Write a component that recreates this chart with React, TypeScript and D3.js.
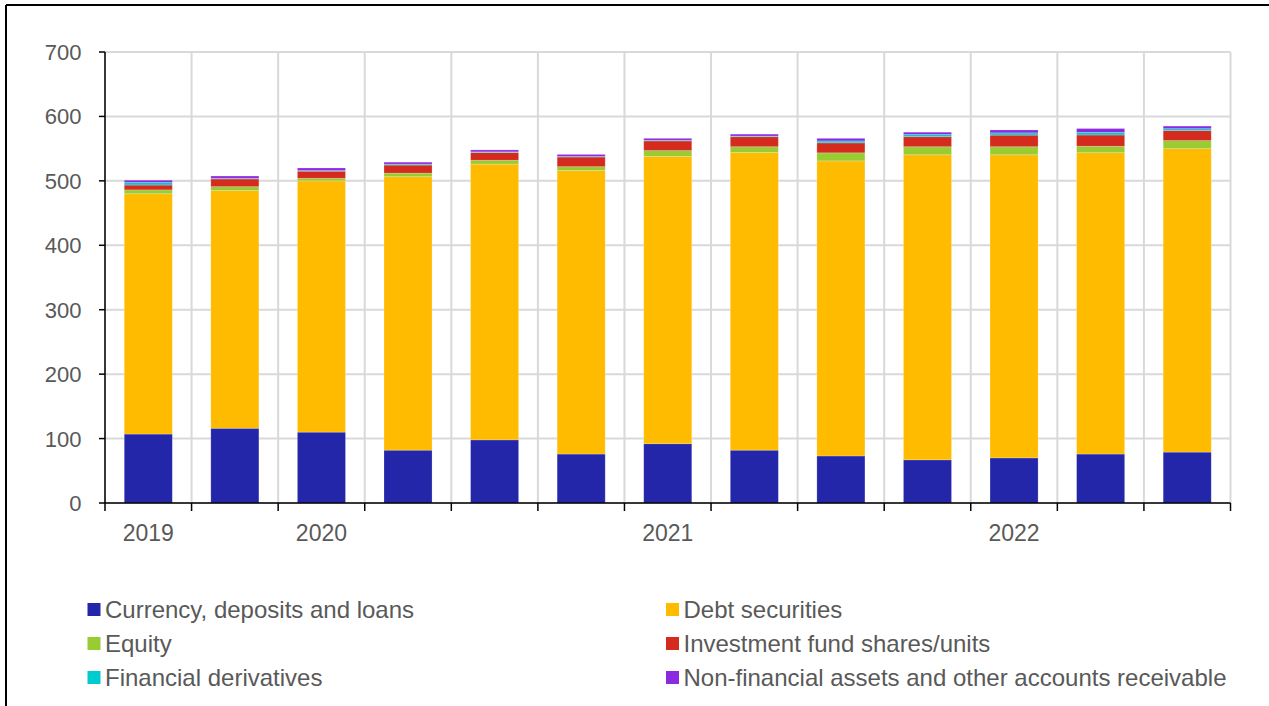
import React from "react";
import * as d3 from "d3";

const categories = ["2019Q1", "2019Q3", "2020Q1", "2020Q3", "2021Q1a", "2021Q1b", "2021Q1c", "2021Q3", "2021Q4", "2022Q1", "2022Q2", "2022Q3", "2022Q4"];
const xLabels = ["2019", "", "2020", "", "", "", "2021", "", "", "", "2022", "", ""];

const currency = [107, 116, 110, 82, 98, 76, 92, 82, 73, 67, 70, 76, 79];
const debt = [373, 369, 390, 424.5, 428, 440, 446, 462, 458, 473.5, 470.5, 467.7, 471];
const equity = [6, 6, 4, 5.5, 6, 6, 9, 9, 12.5, 12.5, 12.5, 10, 12.5];
const invFund = [7.5, 12, 11, 12.5, 12, 15, 15, 15.5, 15.5, 15.5, 18, 17.5, 15.5];
const finDeriv = [4, 1, 1, 1.5, 1, 1, 1, 1, 3, 3.5, 3.5, 4, 3];
const nonFin = [3.5, 3.5, 4, 3, 3, 3, 3, 3, 4, 3.5, 4.5, 6, 4];

const seriesNames = [
  "Currency, deposits and loans",
  "Debt securities",
  "Equity",
  "Investment fund shares/units",
  "Financial derivatives",
  "Non-financial assets and other accounts receivable",
];
const seriesColors = ["#2326A8", "#FFBB00", "#99CC33", "#D52B1E", "#00CCD0", "#8A2BE2"];
const seriesValues = [currency, debt, equity, invFund, finDeriv, nonFin];
const yTicks = [0, 100, 200, 300, 400, 500, 600, 700];

export default function App() {
  const left = 105, right = 1230.5, top = 52, bottom = 503;
  const x = d3.scaleBand<number>().domain(d3.range(categories.length)).range([left, right]).paddingInner(0.445).paddingOuter(0.2225);
  const xb = d3.scaleBand<number>().domain(d3.range(categories.length)).range([left, right]);
  const y = d3.scaleLinear().domain([0, 700]).range([bottom, top]);

  const rows = categories.map((c, i) => {
    const o: Record<string, number> = { i };
    seriesValues.forEach((s, k) => (o["s" + k] = s[i]));
    return o;
  });
  const stack = d3.stack<Record<string, number>>().keys(seriesValues.map((_, k) => "s" + k))(rows);

  const font = "'Liberation Sans', Arial, sans-serif";
  const txt = "#595959";
  const grid = "#D9D9D9";

  const boundaries = d3.range(categories.length + 1).map((i) => (i < categories.length ? xb(i)! : right));

  const legendPos = [
    [87.5, 617.5], [666, 617.5],
    [87.5, 651.5], [666, 651.5],
    [87.5, 685.5], [666, 685.5],
  ];

  return (
    <svg width={1269} height={706} style={{ position: "absolute", left: 0, top: 0 }} fontFamily={font}>
      <rect x={0} y={0} width={1269} height={706} fill="#fff" />
      <line x1={6} y1={5} x2={1269} y2={5} stroke="#000" strokeWidth={2} />
      <line x1={6} y1={5} x2={6} y2={706} stroke="#000" strokeWidth={2} />
      {yTicks.map((t) => (
        <line key={"h" + t} x1={left} x2={right} y1={y(t)} y2={y(t)} stroke={grid} strokeWidth={2} />
      ))}
      {boundaries.map((bx, i) => (
        <line key={"v" + i} x1={bx} x2={bx} y1={top} y2={bottom} stroke={grid} strokeWidth={2} />
      ))}
      {stack.map((layer, k) =>
        layer.map((d, i) => (
          <rect
            key={k + "-" + i}
            x={x(i)}
            width={x.bandwidth()}
            y={y(d[1])}
            height={Math.max(0, y(d[0]) - y(d[1]))}
            fill={seriesColors[k]}
            stroke="#ffffff"
            strokeOpacity={0.25}
            strokeWidth={0.8}
          />
        ))
      )}
      <line x1={left} x2={left} y1={top} y2={bottom} stroke="#000" strokeWidth={1.5} />
      {yTicks.map((t) => (
        <g key={"yt" + t}>
          <line x1={99} x2={left} y1={y(t)} y2={y(t)} stroke="#000" strokeWidth={1.5} />
          <text x={81.5} y={y(t) + 8} textAnchor="end" fontSize={22} fill={txt}>{t}</text>
        </g>
      ))}
      <line x1={left} x2={right} y1={bottom} y2={bottom} stroke="#000" strokeWidth={1.5} />
      {boundaries.map((bx, i) => (
        <line key={"xt" + i} x1={bx} x2={bx} y1={bottom} y2={bottom + 8} stroke="#000" strokeWidth={1.5} />
      ))}
      {xLabels.map((l, i) =>
        l ? (
          <text key={"xl" + i} x={xb(i)! + xb.bandwidth() / 2} y={541} textAnchor="middle" fontSize={23} fill={txt}>{l}</text>
        ) : null
      )}
      {seriesNames.map((n, k) => (
        <g key={"lg" + k}>
          <rect x={legendPos[k][0]} y={legendPos[k][1] - 14.5} width={13} height={13} fill={seriesColors[k]} />
          <text x={legendPos[k][0] + 17.5} y={legendPos[k][1]} fontSize={24} fill={txt}>{n}</text>
        </g>
      ))}
    </svg>
  );
}
